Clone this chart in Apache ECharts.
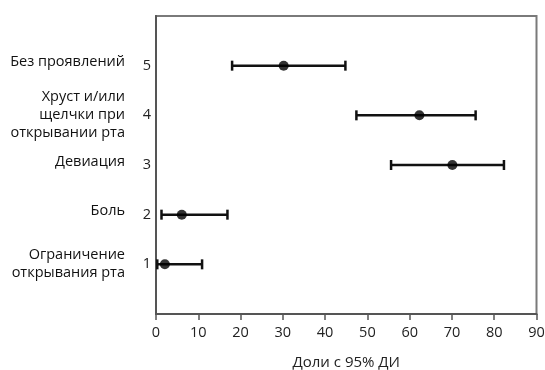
<!DOCTYPE html>
<html><head><meta charset="utf-8">
<script src="https://cdn.jsdelivr.net/npm/echarts@6/dist/echarts.min.js"></script>
<style>html,body{margin:0;padding:0;background:#fff}#c{width:545px;height:370px}</style>
</head><body><div id="c"></div>
<script>
var positions = [1, 2, 3, 4, 5];
var categories = ['Ограничение\nоткрывания рта', 'Боль', 'Девиация', 'Хруст и/или\nщелчки при\nоткрывании рта', 'Без проявлений'];
var estimates = [2.1, 6.1, 70.1, 62.3, 30.2];
var lower = [0.3, 1.3, 55.6, 47.4, 18.0];
var upper = [10.9, 16.9, 82.3, 75.6, 44.8];
var xTicks = [0, 10, 20, 30, 40, 50, 60, 70, 80, 90];
var xTitle = 'Доли с 95% ДИ';

var FONT = '"Open Sans", "Noto Sans", sans-serif';
var nameMap = {};
positions.forEach(function(p, i){ nameMap[p] = categories[i]; });

var errData = positions.map(function(p, i){ return [lower[i], upper[i], p]; });
var ptData = positions.map(function(p, i){ return [estimates[i], p]; });

var chart = echarts.init(document.getElementById('c'), null, {renderer: 'canvas'});
chart.setOption({
  animation: false,
  grid: {left: 156, right: 8.5, top: 16, bottom: 56, show: true, borderColor: '#7a7a7a', borderWidth: 2,
         backgroundColor: 'transparent', containLabel: false, outerBoundsMode: 'none'},
  xAxis: {
    type: 'value', min: xTicks[0], max: xTicks[xTicks.length-1], interval: 10,
    axisLine: {show: true, lineStyle: {color: '#555', width: 2}},
    axisTick: {show: true, inside: false, length: 6, lineStyle: {color: '#555', width: 1.5}},
    axisLabel: {color: '#222', fontFamily: FONT, fontSize: 14.5, margin: 11, hideOverlap: false},
    splitLine: {show: false},
    name: xTitle, nameLocation: 'middle', nameGap: 41,
    nameTextStyle: {color: '#222', fontFamily: FONT, fontSize: 15}
  },
  yAxis: [{
    type: 'value', min: 0, max: 6, interval: 1,
    axisLine: {show: true, lineStyle: {color: '#555', width: 2}},
    axisTick: {show: false},
    axisLabel: {color: '#222', fontFamily: FONT, fontSize: 14.5, margin: 5,
      formatter: function(v){ return nameMap[v] ? String(v) : ''; }},
    splitLine: {show: false}
  }, {
    type: 'value', min: 0, max: 6, interval: 1, position: 'left',
    axisLine: {show: false}, axisTick: {show: false}, splitLine: {show: false},
    axisLabel: {color: '#111', fontFamily: FONT, fontSize: 14.5, margin: 31, lineHeight: 18, align: 'right',
      formatter: function(v){
        var n = nameMap[v];
        if (!n) return '';
        return n.indexOf('\n') < 0 ? '{s|' + n + '}' : n;
      },
      rich: {s: {fontFamily: FONT, fontSize: 14.5, color: '#111', padding: [0, 0, 7, 0]}}
    }
  }],
  series: [{
    type: 'custom',
    data: errData,
    renderItem: function(params, api){
      var a = api.coord([api.value(0), api.value(2)]);
      var b = api.coord([api.value(1), api.value(2)]);
      var h = 5;
      var style = {stroke: '#111', lineWidth: 2.5, fill: 'none'};
      return {type: 'group', children: [
        {type: 'line', shape: {x1: a[0], y1: a[1], x2: b[0], y2: b[1]}, style: style},
        {type: 'line', shape: {x1: a[0], y1: a[1]-h, x2: a[0], y2: a[1]+h}, style: style},
        {type: 'line', shape: {x1: b[0], y1: b[1]-h, x2: b[0], y2: b[1]+h}, style: style}
      ]};
    },
    encode: {x: [0, 1], y: 2},
    z: 2
  }, {
    type: 'scatter',
    data: ptData,
    symbol: 'circle', symbolSize: 10,
    itemStyle: {color: '#000'},
    z: 3
  }]
});
</script></body></html>
